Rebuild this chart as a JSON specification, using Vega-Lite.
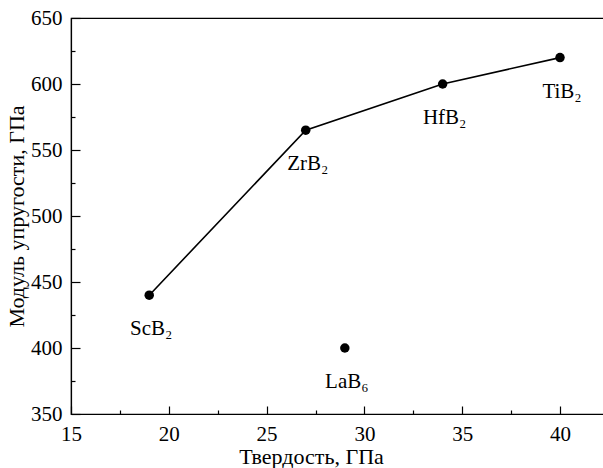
{
  "$schema": "https://vega.github.io/schema/vega-lite/v6.json",
  "width": 534,
  "height": 396,
  "autosize": {"type": "none"},
  "padding": {"left": 71, "top": 18, "right": 0, "bottom": 54},
  "background": "white",
  "config": {
    "view": {"stroke": "black", "strokeWidth": 1.2},
    "axis": {
      "labelFont": "Liberation Serif",
      "labelFontSize": 21,
      "labelColor": "black",
      "titleFont": "Liberation Serif",
      "titleFontSize": 22,
      "titleFontWeight": "normal",
      "titleColor": "black",
      "domainColor": "black",
      "domainWidth": 1.2,
      "tickColor": "black",
      "tickWidth": 1.2,
      "grid": false
    }
  },
  "data": {
    "values": [
      {"material": "ScB₂", "hardness": 19, "modulus": 440, "series": "line"},
      {"material": "ZrB₂", "hardness": 27, "modulus": 565, "series": "line"},
      {"material": "HfB₂", "hardness": 34, "modulus": 600, "series": "line"},
      {"material": "TiB₂", "hardness": 40, "modulus": 620, "series": "line"},
      {"material": "LaB₆", "hardness": 29, "modulus": 400, "series": "single"}
    ]
  },
  "encoding": {
    "x": {
      "field": "hardness",
      "type": "quantitative",
      "scale": {"domain": [15, 42.3], "nice": false, "zero": false},
      "axis": {
        "title": "Твердость, ГПа",
        "values": [15, 17.5, 20, 22.5, 25, 27.5, 30, 32.5, 35, 37.5, 40, 42.5],
        "labelExpr": "datum.value % 5 === 0 ? datum.label : ''",
        "tickSize": {"condition": {"test": "datum.value % 5 === 0", "value": -8}, "value": -4},
        "labelPadding": 17,
        "labelFlush": false,
        "labelOverlap": false,
        "titleX": 240,
        "titleY": 42,
        "titleBaseline": "middle"
      }
    },
    "y": {
      "field": "modulus",
      "type": "quantitative",
      "scale": {"domain": [350, 650], "nice": false, "zero": false},
      "axis": {
        "title": "Модуль упругости, ГПа",
        "values": [350, 375, 400, 425, 450, 475, 500, 525, 550, 575, 600, 625, 650],
        "labelExpr": "datum.value % 50 === 0 ? datum.label : ''",
        "tickSize": {"condition": {"test": "datum.value % 50 === 0", "value": -9}, "value": -4},
        "labelPadding": 18,
        "labelFlush": false,
        "labelOverlap": false,
        "titlePadding": 2
      }
    }
  },
  "layer": [
    {
      "transform": [{"filter": "datum.series === 'line'"}],
      "mark": {"type": "line", "color": "black", "strokeWidth": 1.6}
    },
    {
      "mark": {"type": "circle", "color": "black", "opacity": 1, "size": 90}
    },
    {
      "mark": {"type": "text", "font": "Liberation Serif", "fontSize": 21, "color": "black", "dy": 34, "dx": 2, "baseline": "middle", "align": "center"},
      "encoding": {"text": {"field": "material"}}
    }
  ]
}
